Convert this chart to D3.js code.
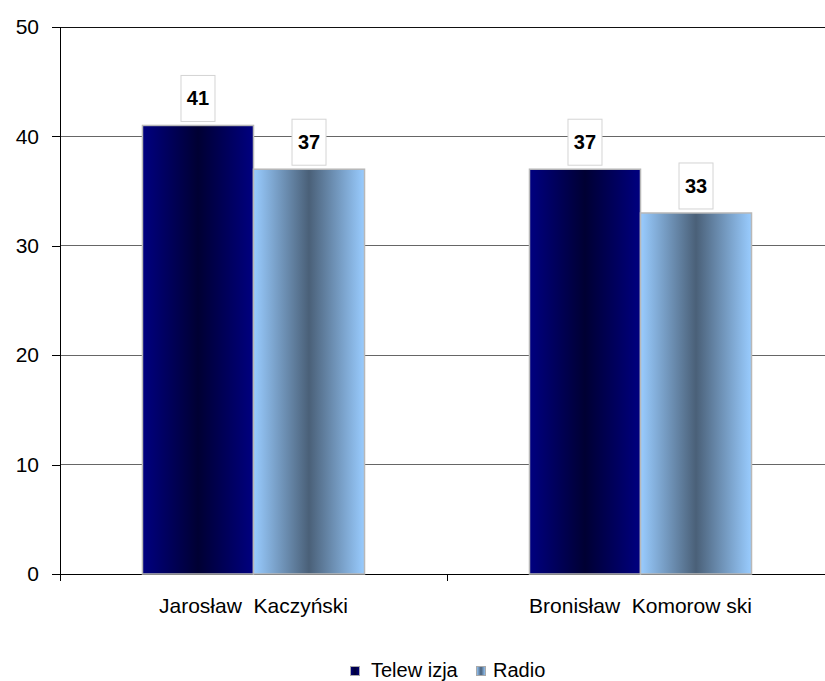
<!DOCTYPE html>
<html><head><meta charset="utf-8">
<script src="https://cdn.jsdelivr.net/npm/d3@7"></script>
<style>body{margin:0;background:#fff}svg{display:block;font-family:Arial,"Liberation Sans",sans-serif}</style>
</head><body>
<svg id="c" width="825" height="681"></svg>
<script>
const categories = ["Jarosław  Kaczyński", "Bronisław  Komorow ski"];
const seriesNames = ["Telew izja", "Radio"];
const telewizja = [41, 37];
const radio = [37, 33];
const yTicks = [0, 10, 20, 30, 40, 50];

(function(){
const svg = d3.select("#c");
const pL = 60, pR = 834, pT = 27, pB = 574;
const y = d3.scaleLinear().domain([0, 50]).range([pB, pT]);
const x0 = d3.scaleBand().domain(categories).range([pL, pR]).paddingInner(0).paddingOuter(0);
const x1 = d3.scaleBand().domain(seriesNames).range([0, x0.bandwidth()]).paddingInner(0).paddingOuter(0.743);

const defs = svg.append("defs");
const gT = defs.append("linearGradient").attr("id", "gT").attr("x1", "0").attr("x2", "1").attr("y1", "0").attr("y2", "0");
gT.append("stop").attr("offset", "0%").attr("stop-color", "#000080");
gT.append("stop").attr("offset", "50%").attr("stop-color", "#000033");
gT.append("stop").attr("offset", "100%").attr("stop-color", "#000080");
const gR = defs.append("linearGradient").attr("id", "gR").attr("x1", "0").attr("x2", "1").attr("y1", "0").attr("y2", "0");
gR.append("stop").attr("offset", "0%").attr("stop-color", "#99ccff");
gR.append("stop").attr("offset", "50%").attr("stop-color", "#4a6078");
gR.append("stop").attr("offset", "100%").attr("stop-color", "#99ccff");
const fills = {"Telew izja": "url(#gT)", "Radio": "url(#gR)"};

// gridlines
svg.append("g").selectAll("line").data(yTicks.filter(d => d > 0)).join("line")
  .attr("x1", pL).attr("x2", 825).attr("y1", d => y(d)).attr("y2", d => y(d))
  .attr("stroke", d => d === 50 ? "#111" : "#666").attr("stroke-width", 1).attr("shape-rendering", "crispEdges");

// y axis
const yAxis = d3.axisLeft(y).tickValues(yTicks).tickSize(8).tickPadding(13);
const ya = svg.append("g").attr("transform", `translate(${pL},0)`).call(yAxis);
ya.select(".domain").attr("stroke", "#000").attr("d", `M0,${pT}V${pB}`);
ya.selectAll(".tick line").attr("stroke", "#000");
ya.selectAll("text").attr("font-size", 21).attr("fill", "#000").attr("font-family", "Arial, 'Liberation Sans', sans-serif");
ya.attr("shape-rendering", "crispEdges");

// x axis
const xa = svg.append("g").attr("transform", `translate(0,${pB})`);
xa.append("line").attr("x1", pL).attr("x2", 825).attr("y1", 0).attr("y2", 0).attr("stroke", "#000").attr("shape-rendering", "crispEdges");
const bounds = [pL, ...categories.map(c => x0(c) + x0.bandwidth())];
xa.selectAll("line.tk").data(bounds).join("line").attr("class", "tk")
  .attr("x1", d => d).attr("x2", d => d).attr("y1", 0).attr("y2", 7).attr("stroke", "#000").attr("shape-rendering", "crispEdges");
xa.selectAll("text").data(categories).join("text")
  .attr("x", d => x0(d) + x0.bandwidth() / 2).attr("y", 39)
  .attr("text-anchor", "middle").attr("font-size", 21).attr("fill", "#000").style("white-space", "pre").text(d => d);

// bars
const rows = categories.map((c, i) => ({c, vals: [{s: seriesNames[0], v: telewizja[i]}, {s: seriesNames[1], v: radio[i]}]}));
const g = svg.append("g").selectAll("g").data(rows).join("g").attr("transform", d => `translate(${x0(d.c)},0)`);
g.selectAll("rect.bar").data(d => d.vals).join("rect").attr("class", "bar")
  .attr("x", d => x1(d.s)).attr("width", x1.bandwidth())
  .attr("y", d => y(d.v)).attr("height", d => y(0) - y(d.v))
  .attr("fill", d => fills[d.s]).attr("stroke", "#b8b8b8").attr("stroke-width", 1.5);

// labels
const lab = g.selectAll("g.lab").data(d => d.vals).join("g").attr("class", "lab")
  .attr("transform", d => `translate(${x1(d.s) + x1.bandwidth() / 2},${y(d.v) - 4})`);
lab.append("rect").attr("x", -17).attr("y", -46).attr("width", 34).attr("height", 46)
  .attr("fill", "#fff").attr("stroke", "#d4d4d4").attr("stroke-width", 1);
lab.append("text").attr("x", 0).attr("y", -16).attr("text-anchor", "middle")
  .attr("font-size", 20).attr("font-weight", "bold").attr("fill", "#000").text(d => d.v);

// legend
const leg = svg.append("g").attr("transform", "translate(350,677)");
const items = [{s: seriesNames[0], x: 0}, {s: seriesNames[1], x: 126}];
const li = leg.selectAll("g").data(items).join("g").attr("transform", d => `translate(${d.x},0)`);
li.append("rect").attr("x", 0.5).attr("y", -10.5).attr("width", 9).attr("height", 9)
  .attr("fill", d => fills[d.s]).attr("stroke", "#aaa").attr("stroke-width", 1);
li.append("text").attr("x", d => d.x === 0 ? 21 : 17).attr("y", 0).attr("font-size", 20).attr("fill", "#000").style("white-space", "pre").text(d => d.s);
})();
</script>
</body></html>
